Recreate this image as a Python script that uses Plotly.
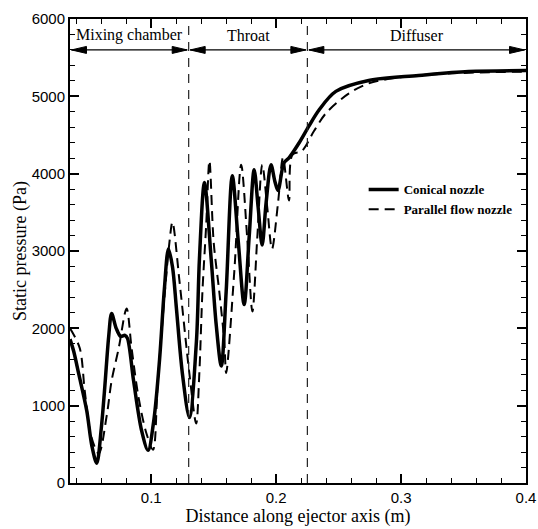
import plotly.graph_objects as go

# ---- data ----
conical_x = [0.035, 0.038, 0.042, 0.0484, 0.0525, 0.0564, 0.0600, 0.0628, 0.0660, 0.0683,
             0.0720, 0.0755, 0.0790, 0.0810, 0.0859, 0.0923, 0.0975, 0.1020, 0.1067, 0.1105,
             0.1138, 0.1170, 0.1202, 0.1250, 0.1306, 0.1362, 0.1386, 0.1426, 0.1480, 0.1520,
             0.1561, 0.1600, 0.1649, 0.1696, 0.1744, 0.1784, 0.1824, 0.1856, 0.1888, 0.1920,
             0.1959, 0.1990, 0.2015, 0.2063, 0.2103, 0.2183, 0.2262, 0.2342, 0.2478, 0.2741,
             0.3140, 0.3539, 0.4000]
conical_y = [1860, 1700, 1410, 936, 480, 256, 700, 1231, 1900, 2192,
             2000, 1897, 1910, 1870, 1321, 679, 423, 800, 1600, 2500,
             3026, 2800, 2256, 1410, 846, 1833, 2897, 3885, 2897, 2051,
             1513, 2474, 3974, 3141, 2308, 3180, 4051, 3564, 3077, 3628,
             4115, 3900, 3782, 4141, 4205, 4397, 4615, 4821, 5064, 5205,
             5269, 5321, 5333]

parallel_x = [0.035, 0.0428, 0.0468, 0.0520, 0.0580, 0.0644, 0.0683, 0.0740, 0.0803, 0.0843,
              0.0899, 0.0962, 0.1015, 0.1050, 0.1090, 0.1146, 0.1170, 0.1227, 0.1306, 0.1360,
              0.1385, 0.1410, 0.1440, 0.1466, 0.1500, 0.1545, 0.1585, 0.1600, 0.1665, 0.1720,
              0.1768, 0.1810, 0.1849, 0.1889, 0.1929, 0.1967, 0.2015, 0.2055, 0.2103, 0.2130,
              0.2207, 0.2303, 0.2399, 0.2583, 0.2741, 0.2980, 0.3380, 0.4000]
parallel_y = [2000, 1744, 1192, 600, 380, 872, 1321, 1744, 2256, 1744,
              1103, 641, 430, 1231, 2090, 3115, 3372, 2600, 1410, 770,
              1410, 2474, 3333, 4167, 3115, 2474, 1833, 1423, 2730, 4115,
              3180, 2218, 3170, 4115, 3560, 3026, 3620, 4205, 3654, 4244,
              4295, 4551, 4782, 5038, 5167, 5244, 5295, 5320]

section_bounds = [0.035, 0.13, 0.225, 0.4]
section_names = ["Mixing chamber", "Throat", "Diffuser"]
divider_x = [0.13, 0.225]
arrow_level = 5600
label_level = 5790
x_tick_vals = [0.1, 0.2, 0.3, 0.4]
x_tick_text = ["0.1", "0.2", "0.3", "0.4"]
y_tick_vals = [0, 1000, 2000, 3000, 4000, 5000, 6000]
y_tick_text = ["0", "1000", "2000", "3000", "4000", "5000", "6000"]

SERIF = "Liberation Serif, Times New Roman, serif"
SANS = "Liberation Sans, Arial, sans-serif"

fig = go.Figure()
fig.add_trace(go.Scatter(
    x=conical_x, y=conical_y, mode="lines", name="Conical nozzle",
    line=dict(color="black", width=3.5, shape="spline", smoothing=0.9)))
fig.add_trace(go.Scatter(
    x=parallel_x, y=parallel_y, mode="lines", name="Parallel flow nozzle",
    line=dict(color="black", width=2, dash="10px,6px", shape="spline", smoothing=0.9)))

# vertical section dividers
for xd in divider_x:
    fig.add_shape(type="line", xref="x", yref="paper", x0=xd, x1=xd, y0=0, y1=1,
                  line=dict(color="#222", width=1.2, dash="9px,7px"))

# double-headed arrows (shaft + elongated filled heads) and section labels
gap = 0.0012
head_right = "M0,0 L-15,3.5 L-15,-3.5 Z"
head_left = "M0,0 L15,3.5 L15,-3.5 Z"
for i, name in enumerate(section_names):
    x0 = section_bounds[i] + gap
    x1 = section_bounds[i + 1] - gap
    fig.add_shape(type="line", xref="x", yref="y", x0=x0, x1=x1,
                  y0=arrow_level, y1=arrow_level, line=dict(color="black", width=1.2))
    for xa, p in ((x1, head_right), (x0, head_left)):
        fig.add_shape(type="path", xref="x", yref="y", xsizemode="pixel", ysizemode="pixel",
                      xanchor=xa, yanchor=arrow_level, path=p,
                      fillcolor="black", line=dict(color="black", width=1))
    fig.add_annotation(x=(section_bounds[i] + section_bounds[i + 1]) / 2, y=label_level,
                       xref="x", yref="y", text=name, showarrow=False,
                       font=dict(family=SERIF, size=16, color="black"))

axis_common = dict(
    showline=True, linecolor="black", linewidth=2, mirror="allticks",
    ticks="inside", ticklen=9, tickwidth=2, tickcolor="black",
    showgrid=False, zeroline=False, ticklabeloverflow="allow",
    tickfont=dict(family=SANS, size=15, color="black"),
)

fig.update_xaxes(
    range=[0.035, 0.4], tickvals=x_tick_vals, ticktext=x_tick_text, automargin=False,
    minor=dict(ticks="inside", ticklen=5, tickwidth=1, tickcolor="black", dtick=0.02, tick0=0),
    title=dict(text="Distance along ejector axis (m)", font=dict(family=SERIF, size=18, color="black"),
               standoff=2),
    **axis_common)
fig.update_yaxes(
    range=[0, 6000], tickvals=y_tick_vals, ticktext=y_tick_text, automargin=True,
    minor=dict(ticks="inside", ticklen=5, tickwidth=1, tickcolor="black", dtick=200, tick0=0),
    title=dict(text="Static pressure (Pa)", font=dict(family=SERIF, size=18, color="black"),
               standoff=0),
    **axis_common)

fig.update_layout(
    width=538, height=529,
    margin=dict(l=70, r=10, t=14, b=46),
    paper_bgcolor="white", plot_bgcolor="white",
    showlegend=True,
    legend=dict(x=0.644, y=0.665, xanchor="left", yanchor="top",
                bgcolor="rgba(0,0,0,0)", borderwidth=0,
                font=dict(family=SERIF, size=13, color="black", weight="bold"),
                tracegroupgap=0),
)

# remove the browser's default page margin so the figure sits at the window origin
fig.write_html("out.html", config={"displayModeBar": False},
               post_script="document.body.style.margin='0';")
